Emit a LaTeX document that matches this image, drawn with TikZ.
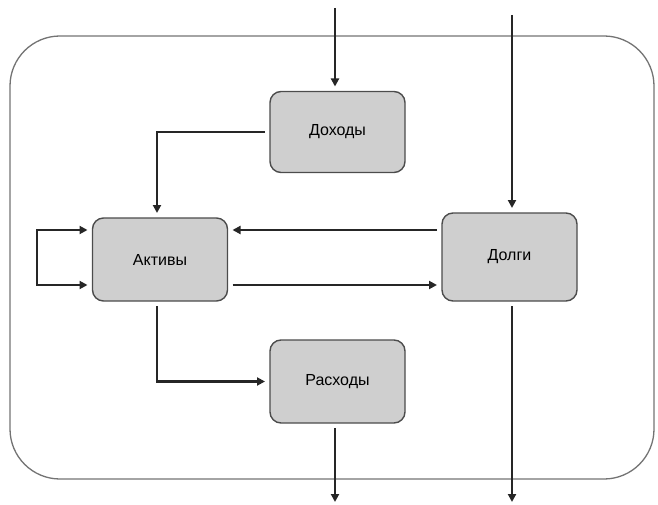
\documentclass[tikz,border=0pt]{standalone}
\usepackage{fontspec}
\setmainfont{Liberation Sans}
\usetikzlibrary{arrows.meta}
\begin{document}
\begin{tikzpicture}[x=1pt,y=-1pt,
  box/.style={draw=black!70, line width=1.4pt, fill=black!19, rounded corners=11pt,
    minimum width=135pt, minimum height=81pt, inner sep=0pt, outer sep=5pt, font=\fontsize{16}{18}\selectfont},
  conn/.style={draw=black!85, line width=2.2pt, -{Triangle[length=8pt,width=8pt]}},
  plain/.style={draw=black!85, line width=2.2pt}]
\useasboundingbox (0,0) rectangle (658,505);
\draw[black!55, line width=1.3pt, rounded corners=50pt] (10,36) rectangle (654,479);
\node[box] (inc) at (337.5,132) {Доходы};
\node[box, minimum height=83pt] (ast) at (160,259.5) {Активы};
\node[box, minimum height=88pt] (dbt) at (509.5,257) {Долги};
\node[box, minimum height=83pt] (exp) at (337.5,381.5) {Расходы};
\coordinate (tin) at (335,8);
\coordinate (tdb) at (512,15);
\coordinate (bdb) at (512,502);
\coordinate (bex) at (335,502);
\coordinate (l1) at (37,230);
\coordinate (l2) at (37,285);
\draw[conn] (tin) -- (inc.north -| tin);
\draw[conn] (tdb) -- (dbt.north -| tdb);
\draw[conn] (dbt.south -| bdb) -- (bdb);
\draw[conn] (exp.south -| bex) -- (bex);
\draw[conn] (inc.west) -| (ast.north -| 157,0);
\draw[conn] (ast.south -| 157,0) |- (exp.west);
\draw[conn] (dbt.west |- 0,230) -- (ast.east |- 0,230);
\draw[conn] (ast.east |- 0,285) -- (dbt.west |- 0,285);
\draw[conn, {Triangle[length=8pt,width=8pt]}-{Triangle[length=8pt,width=8pt]}] (ast.west |- l1) -- (l1) -- (l2) -- (ast.west |- l2);
\end{tikzpicture}
\end{document}
